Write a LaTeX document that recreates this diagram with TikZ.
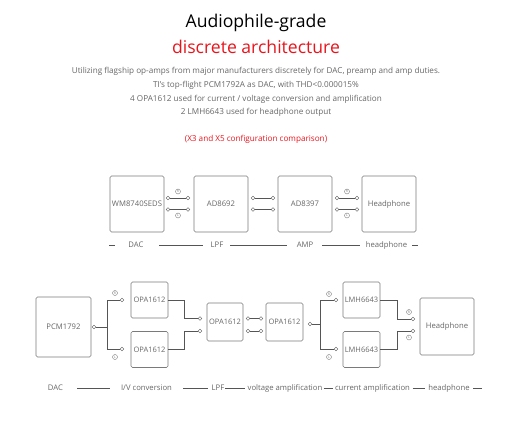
\documentclass[tikz,border=0pt]{standalone}
\usepackage{fontspec}
\setmainfont{Open Sans}
\definecolor{boxgray}{HTML}{7A7A7A}
\definecolor{linegray}{HTML}{555555}
\definecolor{txtgray}{HTML}{666666}
\definecolor{titlered}{HTML}{E8141C}
\tikzset{
  blk/.style={draw=boxgray, rounded corners=1.5pt, line width=0.6pt, text=txtgray,
    font=\fontsize{7.7}{8}\selectfont, inner sep=0pt},
  sblk/.style={blk, font=\fontsize{7.5}{8}\selectfont},
  port/.style={circle, draw=linegray, fill=white, inner sep=0pt, minimum size=3.8pt, line width=0.35pt},
  chan/.style={circle, draw=boxgray, inner sep=0pt, minimum size=5pt, line width=0.4pt,
    text=boxgray, font=\fontsize{3.4}{3.6}\selectfont},
  wire/.style={draw=linegray, line width=0.6pt},
  lbl/.style={text=txtgray, font=\fontsize{7.7}{8}\selectfont, inner sep=0pt},
  desc/.style={text=txtgray, font=\fontsize{8.15}{9}\selectfont, inner sep=0pt},
}
\begin{document}
\begin{tikzpicture}[x=1pt,y=-1pt]
\useasboundingbox (0,0) rectangle (512,423);
% titles
\node[font=\fontsize{17.6}{20}\selectfont, text=black] (t1) at (256,23) {Audiophile-grade};
\node[font=\fontsize{17.6}{20}\selectfont, text=titlered] (t2) at (256,47) {discrete architecture};
\node[desc] (d1) at (256,71) {Utilizing flagship op-amps from major manufacturers discretely for DAC, preamp and amp duties.};
\node[desc] (d2) at (256,85) {TI's top-flight PCM1792A as DAC, with THD<0.000015\%};
\node[desc] (d3) at (256,99) {4 OPA1612 used for current / voltage conversion and amplification};
\node[desc] (d4) at (256,112) {2 LMH6643 used for headphone output};
\node[desc, text=titlered] (d5) at (256,139) {(X3 and X5 configuration comparison)};

% ===== top row =====
\node[blk, minimum width=54pt, minimum height=56pt] (wm) at (137,204) {WM8740SEDS};
\node[blk, minimum width=54pt, minimum height=56pt] (ada) at (221,204) {AD8692};
\node[blk, minimum width=54pt, minimum height=56pt] (adb) at (305,204) {AD8397};
\node[blk, minimum width=54pt, minimum height=56pt] (hpa) at (389,204) {Headphone};

\foreach \n/\xa/\xb in {a/168/188, b/253/273, c/337/357}{
  \node[port] (u\n1) at (\xa,198) {};
  \node[port] (u\n2) at (\xb,198) {};
  \node[port] (l\n1) at (\xa,209.5) {};
  \node[port] (l\n2) at (\xb,209.5) {};
  \draw[wire] (u\n1) -- (u\n2);
  \draw[wire] (l\n1) -- (l\n2);
}
\node[chan] (ra) at (178,191.5) {R};
\node[chan] (la) at (178,215.5) {L};
\node[chan] (rc) at (347,191.5) {R};
\node[chan] (lc) at (347,215.5) {L};

% top labels
\node[lbl] (x1) at (136,245) {DAC};
\node[lbl] (x2) at (217,245) {LPF};
\node[lbl] (x3) at (305,245) {AMP};
\node[lbl] (x4) at (386.5,245) {headphone};
\foreach \i/\a/\b in {1/109/115, 2/159/203, 3/230/287, 4/322/360, 5/412/418}{
  \coordinate (ta\i) at (\a,245);
  \coordinate (tb\i) at (\b,245);
  \draw[wire, line width=0.55pt] (ta\i) -- (tb\i);
}

% ===== bottom row =====
\node[blk, minimum width=55pt, minimum height=60pt] (pcm) at (63.5,327) {PCM1792};
\node[sblk, minimum width=37pt, minimum height=36pt] (opa1) at (149.5,300) {OPA1612};
\node[sblk, minimum width=37pt, minimum height=36pt] (opa2) at (149.5,349.5) {OPA1612};
\node[sblk, minimum width=36pt, minimum height=38pt] (opa3) at (225,322) {OPA1612};
\node[sblk, minimum width=37pt, minimum height=38pt] (opa4) at (284.5,322) {OPA1612};
\node[sblk, minimum width=37pt, minimum height=36pt] (lmh1) at (361.5,300) {LMH6643};
\node[sblk, minimum width=37pt, minimum height=36pt] (lmh2) at (361.5,349.5) {LMH6643};
\node[blk, minimum width=54pt, minimum height=57pt] (hpb) at (447,326.5) {Headphone};

% PCM -> split
\node[port] (pp) at (94,327) {};
\coordinate (pb) at (107,327);
\node[port] (po1) at (122,300) {};
\node[port] (po2) at (122,349) {};
\draw[wire] (pp) -- (pb);
\draw[wire] (po1) -- (107,300) -- (107,349) -- (po2);
\node[chan] (r1) at (115,293) {R};
\node[chan] (l1) at (115,357) {L};

% OPA1/2 -> merge
\node[port] (m1) at (200,318.5) {};
\node[port] (m2) at (200,331) {};
\draw[wire] (opa1.east |- 0,300) -- (184,300) -- (184,318.5) -- (m1);
\draw[wire] (opa2.east |- 0,349) -- (184,349) -- (184,331) -- (m2);

% OPA3 -> OPA4
\node[port] (n1a) at (248,318.5) {};
\node[port] (n1b) at (261,318.5) {};
\node[port] (n2a) at (248,331) {};
\node[port] (n2b) at (261,331) {};
\draw[wire] (n1a) -- (n1b);
\draw[wire] (n2a) -- (n2b);

% OPA4 -> split
\node[port] (qp) at (310,324) {};
\coordinate (qb) at (320,324);
\node[port] (qo1) at (336,300) {};
\node[port] (qo2) at (336,349) {};
\draw[wire] (qp) -- (qb);
\draw[wire] (qo1) -- (320,300) -- (320,349) -- (qo2);
\node[chan] (r2) at (329,294) {R};
\node[chan] (l2) at (329,357) {L};

% LMH -> headphone
\node[port] (h1) at (413,319) {};
\node[port] (h2) at (413,331) {};
\draw[wire] (lmh1.east |- 0,300) -- (397,300) -- (397,319) -- (h1);
\draw[wire] (lmh2.east |- 0,349) -- (397,349) -- (397,331) -- (h2);
\node[chan] (r3) at (409,312) {R};
\node[chan] (l3) at (409,337.5) {L};

% bottom labels
\node[lbl] (y1) at (55.5,388) {DAC};
\node[lbl] (y2) at (146.5,388) {I/V conversion};
\node[lbl] (y3) at (218,388) {LPF};
\node[lbl] (y4) at (285,388) {voltage amplification};
\node[lbl] (y5) at (372.5,388) {current amplification};
\node[lbl] (y6) at (449,388) {headphone};
\foreach \i/\a/\b in {1/77/110, 2/183/208, 3/225/245, 4/323.5/333, 5/412.5/425, 6/473/482}{
  \coordinate (ba\i) at (\a,388);
  \coordinate (bb\i) at (\b,388);
  \draw[wire, line width=0.55pt] (ba\i) -- (bb\i);
}
\end{tikzpicture}
\end{document}
